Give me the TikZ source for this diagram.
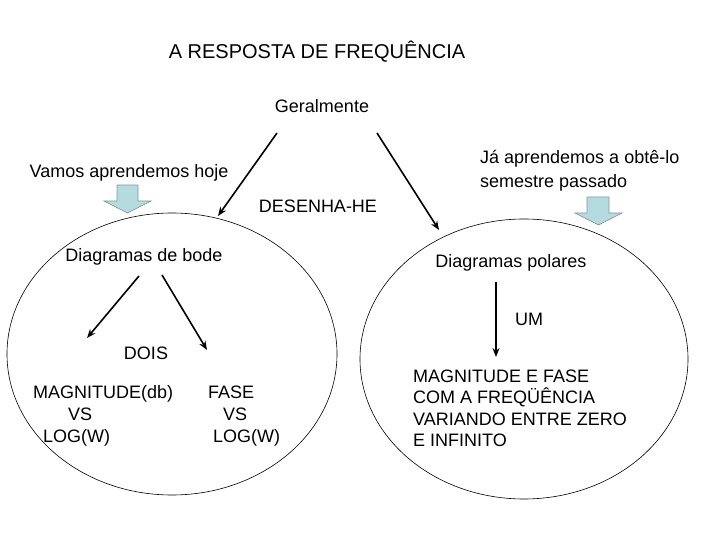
\documentclass[tikz,border=0pt]{standalone}
\usepackage{fontspec}
\setmainfont{Liberation Sans}
\usetikzlibrary{arrows.meta,shapes.geometric}
\definecolor{bafill}{RGB}{180,220,224}
\definecolor{badraw}{RGB}{140,150,155}
\begin{document}
\begin{tikzpicture}[x=1pt,y=-1pt,
  txt/.style={inner sep=0pt,font=\fontsize{18}{22}\selectfont,align=left},
  conn/.style={line width=1.6pt,-{Stealth[length=9pt,width=7pt]}},
  oval/.style={ellipse,draw,line width=0.6pt,inner sep=0pt},
  blockarrow/.style={draw=badraw,fill=bafill,line width=0.7pt}]
\useasboundingbox (0,0) rectangle (720,540);
% title and labels
\node[txt,font=\fontsize{20}{24}\selectfont] (title) at (317,52) {A RESPOSTA DE FREQUÊNCIA};
\node[txt] (ger) at (322,106) {Geralmente};
\node[txt] (vamos) at (129,173) {Vamos aprendemos hoje};
\node[txt,anchor=west,font=\fontsize{18}{24}\selectfont] (ja) at (480,171) {Já aprendemos a obtê-lo\\semestre passado};
\node[txt] (des) at (318,206) {DESENHA-HE};
% ellipses
\node[oval,minimum width=330,minimum height=282] (le) at (172,354) {};
\node[oval,minimum width=328,minimum height=280] (re) at (524,359) {};
% block arrows
\path[blockarrow] (117,185) -- (138,185) -- (138,201) -- (151,201) -- (127.5,213) -- (104,201) -- (117,201) -- cycle;
\path[blockarrow] (587,197) -- (609,197) -- (609,213) -- (622,213) -- (598.5,225) -- (575,213) -- (587,213) -- cycle;
% inner texts
\node[txt] (bode) at (144,257) {Diagramas de bode};
\node[txt] (pol) at (511,263) {Diagramas polares};
\node[txt] (dois) at (146,353) {DOIS};
\node[txt] (um) at (529,319) {UM};
\node[txt,anchor=base west] (mag) at (33,442.5) {MAGNITUDE(db)\\\hspace*{35pt}VS\\\hspace*{10pt}LOG(W)};
\node[txt,anchor=base west] (fase) at (208,442.5) {FASE\\\hspace*{15pt}VS\\\hspace*{5pt}LOG(W)};
\node[txt,anchor=base west,font=\fontsize{18}{21.3}\selectfont] (mf) at (413,446.5) {MAGNITUDE E FASE\\COM A FREQÜÊNCIA\\VARIANDO ENTRE ZERO\\E INFINITO};
% connectors
\coordinate (g1) at (277,133);
\coordinate (g2) at (377,133);
\coordinate (lt) at (218,216);
\coordinate (rt) at (439,230);
\draw[conn] (g1) -- (lt);
\draw[conn] (g2) -- (rt);
\coordinate (b1) at (139,276);
\coordinate (b2) at (162,275);
\coordinate (m1) at (87,338);
\coordinate (f1) at (207,350);
\draw[conn] (b1) -- (m1);
\draw[conn] (b2) -- (f1);
\coordinate (p1) at (496,282);
\coordinate (p2) at (496,357);
\draw[conn] (p1) -- (p2);
\end{tikzpicture}
\end{document}
